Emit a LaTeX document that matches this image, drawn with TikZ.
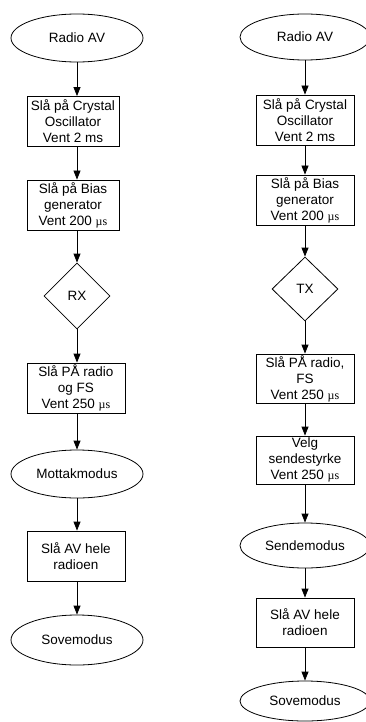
\documentclass[tikz,border=0pt]{standalone}
\usepackage{fontspec}
\setmainfont{Liberation Sans}
\newfontfamily\mufont{Liberation Serif}
\usetikzlibrary{shapes.geometric,arrows.meta}
\newcommand{\usec}{{\mufont\fontsize{12}{16}\selectfont µs}}
\begin{document}
\begin{tikzpicture}[x=1pt,y=-1pt,
  every node/.style={font=\fontsize{13.5}{16}\selectfont, align=center, inner sep=0pt, line width=0.8pt},
  oval/.style={draw, ellipse, minimum width=132pt, minimum height=48pt},
  stepbox/.style={draw, rectangle, minimum width=98pt, minimum height=50pt},
  narrowbox/.style={stepbox, minimum width=92pt},
  choice/.style={draw, diamond, minimum width=66pt, minimum height=66pt},
  arr/.style={line width=0.8pt, -{Triangle[length=9pt,width=7pt]}}]
\useasboundingbox (0,0) rectangle (366,722);

% receive sequence
\coordinate (L) at (77,0);
\node[oval] (l1) at (77,38) {Radio AV};
\node[narrowbox] (l2) at (73,121.5) {Slå på Crystal\\Oscillator\\Vent 2 ms};
\node[narrowbox] (l3) at (73,205) {Slå på Bias\\generator\\Vent 200 \usec};
\node[choice] (l4) at (77,296) {RX};
\node[stepbox] (l5) at (76,388) {Slå PÅ radio\\og FS\\Vent 250 \usec};
\node[oval] (l6) at (77,474) {Mottakmodus};
\node[stepbox] (l7) at (76,556) {Slå AV hele\\radioen};
\node[oval, minimum height=50pt] (l8) at (77,640) {Sovemodus};

\foreach \a/\b in {l1/l2,l2/l3,l3/l4,l4/l5,l5/l6,l6/l7,l7/l8}
  \draw[arr] (\a.south -| L) -- (\b.north -| L);

% transmit sequence
\coordinate (R) at (305,0);
\node[oval, minimum width=130pt, minimum height=46pt] (r1) at (305,37) {Radio AV};
\node[stepbox] (r2) at (305,120) {Slå på Crystal\\Oscillator\\Vent 2 ms};
\node[stepbox] (r3) at (305,200) {Slå på Bias\\generator\\Vent 200 \usec};
\node[choice, minimum height=64pt] (r4) at (305,289) {TX};
\node[stepbox, minimum height=49pt] (r5) at (305,378.5) {Slå PÅ radio,\\FS\\Vent 250 \usec};
\node[stepbox, minimum height=48pt] (r6) at (305,460) {Velg\\sendestyrke\\Vent 250 \usec};
\node[oval, minimum width=130pt, minimum height=45pt] (r7) at (305,545.5) {Sendemodus};
\node[stepbox, minimum height=49pt] (r8) at (305,622.5) {Slå AV hele\\radioen};
\node[oval, minimum width=130pt, minimum height=40pt] (r9) at (305,701) {Sovemodus};

\foreach \a/\b in {r1/r2,r2/r3,r3/r4,r4/r5,r5/r6,r6/r7,r7/r8,r8/r9}
  \draw[arr] (\a.south -| R) -- (\b.north -| R);
\end{tikzpicture}
\end{document}
